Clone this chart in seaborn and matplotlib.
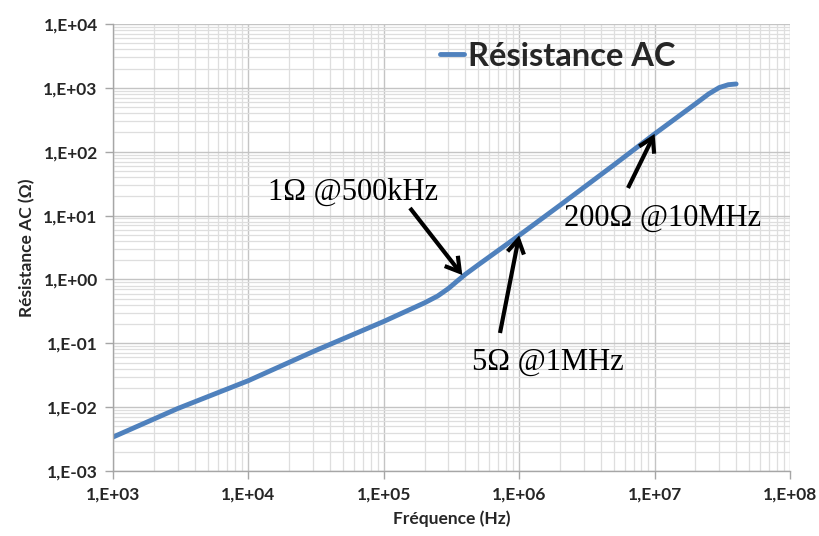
import matplotlib
matplotlib.use("Agg")
import matplotlib.pyplot as plt
import matplotlib.ticker as mticker
from matplotlib.patches import FancyArrowPatch
import seaborn as sns
import numpy as np
import pandas as pd

# Data (frequency in Hz, AC resistance in Ohm)
freq = [1e3, 3e3, 1e4, 3e4, 1e5, 2e5, 2.5e5, 3e5, 3.5e5, 4e5, 5e5,
        1e6, 2e6, 5e6, 1e7, 2e7, 2.5e7, 3e7, 3.5e7, 4e7]
resistance = [3.4e-3, 9.5e-3, 0.026, 0.074, 0.22, 0.43, 0.55, 0.72, 0.95, 1.2, 1.7,
              4.9, 14.5, 62, 190, 560, 800, 1010, 1120, 1150]

annotations = [
    ("1Ω @500kHz", 3.8e5, 1.17, (353, 192), (410, 208)),
    ("5Ω @1MHz", 1e6, 4.9, (548, 362), (500, 333)),
    ("200Ω @10MHz", 1e7, 190, (663, 218), (628, 188)),
]

df = pd.DataFrame({"Fréquence (Hz)": freq, "Résistance AC": resistance})

sns.set_style("white")
plt.rcParams["font.family"] = ["Lato", "DejaVu Sans"]

W, H = 819, 536
fig = plt.figure(figsize=(W / 100, H / 100), dpi=100)
ax = fig.add_axes([113 / W, 1 - 471 / H, (790 - 113) / W, (471 - 24) / H])

sns.lineplot(data=df, x="Fréquence (Hz)", y="Résistance AC", ax=ax,
             color="#4F81BD", linewidth=3.5, label="Résistance AC")

ax.set_xscale("log")
ax.set_yscale("log")
ax.set_xlim(1e3, 1e8)
ax.set_ylim(1e-3, 1e4)

ax.xaxis.set_major_locator(mticker.LogLocator(base=10, numticks=20))
ax.yaxis.set_major_locator(mticker.LogLocator(base=10, numticks=20))
ax.xaxis.set_minor_locator(mticker.LogLocator(base=10, subs=np.arange(2, 10), numticks=50))
ax.yaxis.set_minor_locator(mticker.LogLocator(base=10, subs=np.arange(2, 10), numticks=50))
fmt = mticker.FuncFormatter(lambda v, p: "1,E{:+03d}".format(int(round(np.log10(v)))))
ax.xaxis.set_major_formatter(fmt)
ax.yaxis.set_major_formatter(fmt)
ax.xaxis.set_minor_formatter(mticker.NullFormatter())
ax.yaxis.set_minor_formatter(mticker.NullFormatter())

ax.grid(True, which="major", color="#c4c4c4", linewidth=1.0)
ax.grid(True, which="minor", color="#dedede", linewidth=0.9)
ax.set_axisbelow(True)

for s in ["top", "right"]:
    ax.spines[s].set_visible(False)
for s in ["left", "bottom"]:
    ax.spines[s].set_color("#a6a6a6")
    ax.spines[s].set_linewidth(1.0)

ax.tick_params(which="major", direction="out", length=6, width=1, color="#a6a6a6",
               labelsize=12.5, pad=5, bottom=True, left=True)
ax.tick_params(which="minor", length=0)
for lbl in ax.get_xticklabels() + ax.get_yticklabels():
    lbl.set_fontweight("bold")

ax.set_xlabel("Fréquence (Hz)", fontsize=12.5, fontweight="bold", labelpad=6)
ax.set_ylabel("Résistance AC (Ω)", fontsize=12.5, fontweight="bold", labelpad=6)

leg = ax.legend(loc="center left", bbox_to_anchor=((440 - 113) / (790 - 113), 1 - (56 - 24) / (471 - 24)),
                frameon=False, fontsize=23.5, handlelength=0.75, handletextpad=0.12,
                borderaxespad=0, borderpad=0)
for t in leg.get_texts():
    t.set_fontweight("bold")

# Annotations with arrows (pixel positions converted to figure fraction)
for text, fx, fy, (tx, ty), (ax0, ay0) in annotations:
    fig.text(tx / W, 1 - ty / H, text, ha="center", va="center",
             fontsize=22, family=["Liberation Serif", "DejaVu Serif"], color="black")
    tip = fig.transFigure.inverted().transform(ax.transData.transform((fx, fy)))
    arrow = FancyArrowPatch((ax0 / W, 1 - ay0 / H), tuple(tip), transform=fig.transFigure,
                            arrowstyle="->,head_length=0.5,head_width=0.3", mutation_scale=20,
                            color="black", lw=3, shrinkA=0, shrinkB=0,
                            joinstyle="miter", capstyle="butt")
    fig.patches.append(arrow)

fig.savefig("out.png", dpi=100)
